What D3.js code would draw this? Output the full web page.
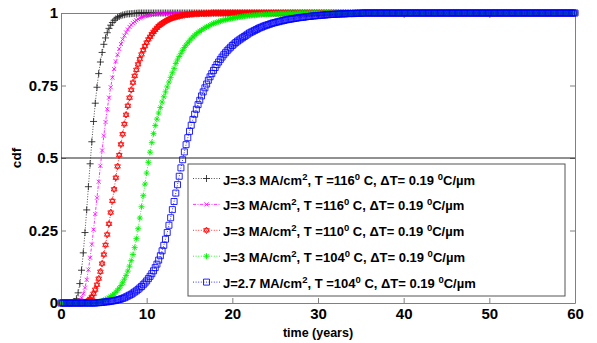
<!DOCTYPE html>
<html>
<head>
<meta charset="utf-8">
<script src="https://cdn.jsdelivr.net/npm/d3@7"></script>
<style>
  body { margin: 0; background: #fff; }
  text { font-family: "Liberation Sans", Arial, sans-serif; font-weight: bold; fill: #000; }
</style>
</head>
<body>
<div id="chart"></div>
<script>
// sampling grid of the simulation, one sample every 0.2 years from 0 to 60
let timeStep = 0.2;
let timeYears = d3.range(301).map(i => +(i * timeStep).toFixed(1));

// cdf values, one line = 5 years (25 samples)
let cdfJ33T116 = [
  0,0,0,0,0, 0,0,0.001,0.005,0.015, 0.035,0.067,0.113,0.173,0.243, 0.321,0.401,0.48,0.556,0.626, 0.689,0.744,0.791,0.831,0.864,
  0.892,0.914,0.932,0.947,0.958, 0.967,0.975,0.98,0.985,0.988, 0.991,0.993,0.994,0.996,0.997, 0.997,0.998,0.998,0.999,0.999, 1,1,1,1,1,
  1,1,1,1,1, 1,1,1,1,1, 1,1,1,1,1, 1,1,1,1,1, 1,1,1,1,1,
  1,1,1,1,1, 1,1,1,1,1, 1,1,1,1,1, 1,1,1,1,1, 1,1,1,1,1,
  1,1,1,1,1, 1,1,1,1,1, 1,1,1,1,1, 1,1,1,1,1, 1,1,1,1,1,
  1,1,1,1,1, 1,1,1,1,1, 1,1,1,1,1, 1,1,1,1,1, 1,1,1,1,1,
  1,1,1,1,1, 1,1,1,1,1, 1,1,1,1,1, 1,1,1,1,1, 1,1,1,1,1,
  1,1,1,1,1, 1,1,1,1,1, 1,1,1,1,1, 1,1,1,1,1, 1,1,1,1,1,
  1,1,1,1,1, 1,1,1,1,1, 1,1,1,1,1, 1,1,1,1,1, 1,1,1,1,1,
  1,1,1,1,1, 1,1,1,1,1, 1,1,1,1,1, 1,1,1,1,1, 1,1,1,1,1,
  1,1,1,1,1, 1,1,1,1,1, 1,1,1,1,1, 1,1,1,1,1, 1,1,1,1,1,
  1,1,1,1,1, 1,1,1,1,1, 1,1,1,1,1, 1,1,1,1,1, 1,1,1,1,1,
  1
];
let cdfJ3T116 = [
  0,0,0,0,0, 0,0,0,0,0.001, 0.004,0.009,0.018,0.032,0.053, 0.08,0.115,0.156,0.202,0.253, 0.307,0.363,0.418,0.473,0.526,
  0.577,0.624,0.668,0.708,0.744, 0.777,0.807,0.833,0.856,0.876, 0.893,0.909,0.922,0.933,0.943, 0.952,0.959,0.965,0.97,0.975, 0.979,0.982,0.985,0.987,0.989,
  0.991,0.992,0.993,0.994,0.995, 0.996,0.997,0.997,0.998,0.998, 0.998,0.999,0.999,0.999,1, 1,1,1,1,1, 1,1,1,1,1,
  1,1,1,1,1, 1,1,1,1,1, 1,1,1,1,1, 1,1,1,1,1, 1,1,1,1,1,
  1,1,1,1,1, 1,1,1,1,1, 1,1,1,1,1, 1,1,1,1,1, 1,1,1,1,1,
  1,1,1,1,1, 1,1,1,1,1, 1,1,1,1,1, 1,1,1,1,1, 1,1,1,1,1,
  1,1,1,1,1, 1,1,1,1,1, 1,1,1,1,1, 1,1,1,1,1, 1,1,1,1,1,
  1,1,1,1,1, 1,1,1,1,1, 1,1,1,1,1, 1,1,1,1,1, 1,1,1,1,1,
  1,1,1,1,1, 1,1,1,1,1, 1,1,1,1,1, 1,1,1,1,1, 1,1,1,1,1,
  1,1,1,1,1, 1,1,1,1,1, 1,1,1,1,1, 1,1,1,1,1, 1,1,1,1,1,
  1,1,1,1,1, 1,1,1,1,1, 1,1,1,1,1, 1,1,1,1,1, 1,1,1,1,1,
  1,1,1,1,1, 1,1,1,1,1, 1,1,1,1,1, 1,1,1,1,1, 1,1,1,1,1,
  1
];
let cdfJ3T110 = [
  0,0,0,0,0, 0,0,0,0,0, 0,0,0,0.001,0.002, 0.004,0.008,0.014,0.021,0.032, 0.046,0.063,0.084,0.108,0.136,
  0.167,0.2,0.236,0.273,0.312, 0.352,0.392,0.432,0.471,0.51, 0.547,0.582,0.617,0.649,0.68, 0.708,0.735,0.76,0.783,0.804, 0.823,0.841,0.857,0.872,0.886,
  0.898,0.909,0.918,0.927,0.935, 0.942,0.949,0.955,0.96,0.964, 0.968,0.972,0.975,0.978,0.98, 0.983,0.985,0.986,0.988,0.989, 0.991,0.992,0.993,0.994,0.994,
  0.995,0.996,0.996,0.997,0.997, 0.997,0.998,0.998,0.998,0.998, 0.999,0.999,0.999,1,1, 1,1,1,1,1, 1,1,1,1,1,
  1,1,1,1,1, 1,1,1,1,1, 1,1,1,1,1, 1,1,1,1,1, 1,1,1,1,1,
  1,1,1,1,1, 1,1,1,1,1, 1,1,1,1,1, 1,1,1,1,1, 1,1,1,1,1,
  1,1,1,1,1, 1,1,1,1,1, 1,1,1,1,1, 1,1,1,1,1, 1,1,1,1,1,
  1,1,1,1,1, 1,1,1,1,1, 1,1,1,1,1, 1,1,1,1,1, 1,1,1,1,1,
  1,1,1,1,1, 1,1,1,1,1, 1,1,1,1,1, 1,1,1,1,1, 1,1,1,1,1,
  1,1,1,1,1, 1,1,1,1,1, 1,1,1,1,1, 1,1,1,1,1, 1,1,1,1,1,
  1,1,1,1,1, 1,1,1,1,1, 1,1,1,1,1, 1,1,1,1,1, 1,1,1,1,1,
  1,1,1,1,1, 1,1,1,1,1, 1,1,1,1,1, 1,1,1,1,1, 1,1,1,1,1,
  1
];
let cdfJ3T104 = [
  0,0,0,0,0, 0,0,0,0,0, 0,0,0,0,0, 0,0,0,0,0.001, 0.001,0.002,0.003,0.005,0.007,
  0.009,0.012,0.015,0.018,0.022, 0.026,0.031,0.037,0.044,0.051, 0.06,0.07,0.082,0.095,0.11, 0.127,0.146,0.167,0.191,0.222, 0.256,0.293,0.332,0.37,0.41,
  0.448,0.485,0.52,0.553,0.584, 0.612,0.634,0.655,0.674,0.693, 0.711,0.728,0.745,0.762,0.778, 0.794,0.809,0.826,0.838,0.85, 0.861,0.871,0.881,0.889,0.897,
  0.904,0.911,0.917,0.923,0.928, 0.933,0.937,0.941,0.945,0.949, 0.952,0.955,0.958,0.961,0.964, 0.966,0.968,0.97,0.972,0.974, 0.975,0.977,0.978,0.979,0.981,
  0.982,0.983,0.984,0.985,0.986, 0.987,0.988,0.989,0.99,0.99, 0.991,0.991,0.992,0.992,0.993, 0.993,0.994,0.994,0.995,0.995, 0.995,0.996,0.996,0.996,0.997,
  0.997,0.997,0.997,0.998,0.998, 0.998,0.998,0.998,0.999,0.999, 0.999,0.999,0.999,1,1, 1,1,1,1,1, 1,1,1,1,1,
  1,1,1,1,1, 1,1,1,1,1, 1,1,1,1,1, 1,1,1,1,1, 1,1,1,1,1,
  1,1,1,1,1, 1,1,1,1,1, 1,1,1,1,1, 1,1,1,1,1, 1,1,1,1,1,
  1,1,1,1,1, 1,1,1,1,1, 1,1,1,1,1, 1,1,1,1,1, 1,1,1,1,1,
  1,1,1,1,1, 1,1,1,1,1, 1,1,1,1,1, 1,1,1,1,1, 1,1,1,1,1,
  1,1,1,1,1, 1,1,1,1,1, 1,1,1,1,1, 1,1,1,1,1, 1,1,1,1,1,
  1,1,1,1,1, 1,1,1,1,1, 1,1,1,1,1, 1,1,1,1,1, 1,1,1,1,1,
  1
];
let cdfJ27T104 = [
  0,0,0,0,0, 0,0,0,0,0, 0,0,0,0,0, 0,0,0,0,0, 0,0.001,0.001,0.002,0.002,
  0.003,0.004,0.004,0.005,0.006, 0.007,0.008,0.009,0.011,0.012, 0.014,0.016,0.018,0.021,0.024, 0.027,0.03,0.034,0.038,0.042, 0.047,0.052,0.057,0.063,0.069,
  0.076,0.084,0.092,0.101,0.111, 0.122,0.134,0.148,0.163,0.18, 0.199,0.22,0.243,0.268,0.294, 0.322,0.35,0.379,0.408,0.437, 0.466,0.494,0.521,0.546,0.57,
  0.592,0.613,0.633,0.651,0.668, 0.684,0.699,0.714,0.728,0.742, 0.755,0.768,0.78,0.791,0.802, 0.812,0.822,0.831,0.84,0.848, 0.856,0.863,0.87,0.876,0.882,
  0.888,0.893,0.898,0.903,0.907, 0.911,0.915,0.919,0.923,0.927, 0.931,0.934,0.937,0.94,0.943, 0.946,0.949,0.951,0.954,0.956, 0.958,0.96,0.962,0.964,0.966,
  0.967,0.969,0.97,0.972,0.973, 0.974,0.976,0.977,0.978,0.979, 0.98,0.981,0.982,0.983,0.984, 0.985,0.985,0.986,0.987,0.988, 0.988,0.989,0.99,0.99,0.991,
  0.991,0.992,0.992,0.993,0.993, 0.994,0.994,0.995,0.995,0.995, 0.996,0.996,0.996,0.997,0.997, 0.997,0.997,0.998,0.998,0.998, 0.998,0.998,0.999,0.999,0.999,
  0.999,1,1,1,1, 1,1,1,1,1, 1,1,1,1,1, 1,1,1,1,1, 1,1,1,1,1,
  1,1,1,1,1, 1,1,1,1,1, 1,1,1,1,1, 1,1,1,1,1, 1,1,1,1,1,
  1,1,1,1,1, 1,1,1,1,1, 1,1,1,1,1, 1,1,1,1,1, 1,1,1,1,1,
  1,1,1,1,1, 1,1,1,1,1, 1,1,1,1,1, 1,1,1,1,1, 1,1,1,1,1,
  1,1,1,1,1, 1,1,1,1,1, 1,1,1,1,1, 1,1,1,1,1, 1,1,1,1,1,
  1
];

let currentDensity = ['3.3', '3', '3', '3', '2.7'];
let temperature = ['116', '116', '110', '104', '104'];
let tempGradient = '0.19';

let xTicks = [0, 10, 20, 30, 40, 50, 60];
let yTicks = [0, 0.25, 0.5, 0.75, 1];
let yTickLabels = ['0', '0.25', '0.5', '0.75', '1'];

let seriesList = [
    { values: cdfJ33T116, color: '#222222', marker: 'plus', size: 3.5, dash: '1,1.6' },
    { values: cdfJ3T116, color: '#ff00ff', marker: 'cross', size: 2, dash: '3,1.5,1,1.5' },
    { values: cdfJ3T110, color: '#ff0000', marker: 'hexagram', size: 3.3, dash: '1,1.6' },
    { values: cdfJ3T104, color: '#00ee00', marker: 'asterisk', size: 3, dash: '1,1.6' },
    { values: cdfJ27T104, color: '#0000ff', marker: 'square', size: 3, dash: '1,1.6' }
];

function markerPath(kind, r) {
    if (kind === 'plus') return `M${-r},0H${r}M0,${-r}V${r}`;
    if (kind === 'cross') return `M${-r},${-r}L${r},${r}M${-r},${r}L${r},${-r}`;
    if (kind === 'square') return `M${-r},${-r}H${r}V${r}H${-r}Z`;
    if (kind === 'asterisk') {
        let d = r * 0.72;
        return `M${-r},0H${r}M0,${-r}V${r}M${-d},${-d}L${d},${d}M${-d},${d}L${d},${-d}`;
    }
    // hexagram: two overlapping triangles
    let tri = start => d3.range(3).map(k => {
        let a = (start + 120 * k) * Math.PI / 180;
        return [r * Math.cos(a), r * Math.sin(a)];
    });
    let up = tri(-90), down = tri(90);
    return 'M' + up.join('L') + 'Z' + 'M' + down.join('L') + 'Z';
}

let width = 597;
let height = 343;
let margin = { left: 61, right: 22, top: 13, bottom: 40 };

let x = d3.scaleLinear().domain([0, 60]).range([margin.left, width - margin.right]);
let y = d3.scaleLinear().domain([0, 1]).range([height - margin.bottom, margin.top]);

let svg = d3.select('#chart').append('svg')
    .attr('width', width)
    .attr('height', height);

let axisColor = '#808080';

// axes with inward ticks, MATLAB style
let bottomAxis = svg.append('g')
    .attr('transform', `translate(0,${y(0)})`)
    .call(d3.axisBottom(x).tickValues(xTicks).tickSize(-5).tickSizeOuter(0).tickPadding(5).tickFormat(d3.format('d')));
let topAxis = svg.append('g')
    .attr('transform', `translate(0,${y(1)})`)
    .call(d3.axisTop(x).tickValues(xTicks).tickSize(-5).tickSizeOuter(0).tickFormat(''));
let leftAxis = svg.append('g')
    .attr('transform', `translate(${x(0)},0)`)
    .call(d3.axisLeft(y).tickValues(yTicks).tickSize(-5).tickSizeOuter(0).tickPadding(3)
        .tickFormat((d, i) => yTickLabels[i]));
let rightAxis = svg.append('g')
    .attr('transform', `translate(${x(60)},0)`)
    .call(d3.axisRight(y).tickValues(yTicks).tickSize(-5).tickSizeOuter(0).tickFormat(''));

[bottomAxis, topAxis, leftAxis, rightAxis].forEach(g => {
    g.select('.domain').attr('stroke', axisColor);
    g.selectAll('.tick line').attr('stroke', axisColor);
    g.selectAll('.tick text')
        .attr('font-family', '"Liberation Sans", Arial, sans-serif')
        .attr('font-weight', 'bold')
        .attr('font-size', 15)
        .attr('fill', '#000');
});

// reference line at cdf = 0.5
svg.append('line')
    .attr('x1', x(0)).attr('x2', x(60))
    .attr('y1', y(0.5)).attr('y2', y(0.5))
    .attr('stroke', '#222')
    .attr('stroke-width', 1);

// axis titles
svg.append('text')
    .attr('transform', `translate(21,${y(0.5)}) rotate(-90)`)
    .attr('text-anchor', 'middle')
    .attr('font-size', 13.5)
    .text('cdf');
svg.append('text')
    .attr('x', (x(0) + x(60)) / 2)
    .attr('y', 337)
    .attr('text-anchor', 'middle')
    .attr('font-size', 12.5)
    .text('time (years)');

// curves
let line = d3.line().x(d => x(d[0])).y(d => y(d[1]));

seriesList.forEach(s => {
    let pts = timeYears.map((t, i) => [t, s.values[i]]).filter(d => d[1] !== undefined);
    let g = svg.append('g');
    g.append('path')
        .datum(pts)
        .attr('d', line)
        .attr('fill', 'none')
        .attr('stroke', s.color)
        .attr('stroke-width', 0.8)
        .attr('stroke-dasharray', s.dash);
    g.selectAll('path.marker')
        .data(pts)
        .enter()
        .append('path')
        .attr('class', 'marker')
        .attr('transform', d => `translate(${x(d[0])},${y(d[1])})`)
        .attr('d', markerPath(s.marker, s.size))
        .attr('fill', 'none')
        .attr('stroke', s.color)
        .attr('stroke-width', 0.85);
});

// legend
let legendBox = { x: 188, y: 164, w: 377, h: 132 };
let legend = svg.append('g');
legend.append('rect')
    .attr('x', legendBox.x).attr('y', legendBox.y)
    .attr('width', legendBox.w).attr('height', legendBox.h)
    .attr('fill', '#fff')
    .attr('stroke', '#555')
    .attr('stroke-width', 1);

seriesList.forEach((s, i) => {
    let ly = 178.5 + i * 25.9;
    legend.append('line')
        .attr('x1', 193).attr('x2', 220)
        .attr('y1', ly).attr('y2', ly)
        .attr('stroke', s.color)
        .attr('stroke-width', 0.8)
        .attr('stroke-dasharray', s.dash);
    legend.append('path')
        .attr('transform', `translate(206.5,${ly})`)
        .attr('d', markerPath(s.marker, s.size))
        .attr('fill', 'none')
        .attr('stroke', s.color)
        .attr('stroke-width', 0.85);

    let parts = [
        [`J=${currentDensity[i]} MA/cm`, false],
        ['2', true],
        [`, T =${temperature[i]}`, false],
        ['0', true],
        [` C, \u0394T= ${tempGradient} `, false],
        ['0', true],
        ['C/\u00b5m', false]
    ];
    let label = legend.append('text')
        .attr('x', 223)
        .attr('y', ly + 6)
        .attr('font-size', 13);
    let raised = false;
    parts.forEach(([str, sup]) => {
        let shift = 0;
        if (sup && !raised) shift = -5;
        if (!sup && raised) shift = 5;
        raised = sup;
        label.append('tspan')
            .attr('dy', shift)
            .attr('font-size', sup ? 9.5 : 13)
            .text(str);
    });
});
</script>
</body>
</html>
